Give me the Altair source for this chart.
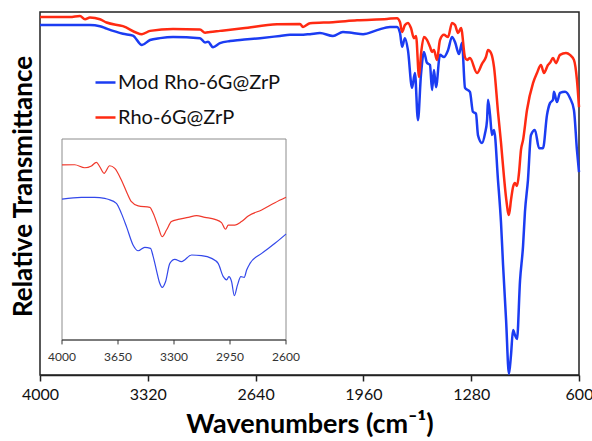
import altair as alt
import pandas as pd

series_names = ["Mod Rho-6G@ZrP", "Rho-6G@ZrP"]
series_colors = ["#1b3cf2", "#ff2a12"]
inset_colors = ["#3348ea", "#f0392c"]

# Main spectrum: Mod Rho-6G@ZrP (blue)
mod_wn = [4000, 3748, 3685, 3622, 3580, 3477, 3414, 3357, 3306, 3243, 3161, 2991, 2959, 2940,
          2909, 2865, 2801, 2738, 2612, 2486, 2423, 2360, 2297, 2234, 2152, 2089, 2026, 1962,
          1874, 1792, 1748, 1729, 1716, 1698, 1679, 1653, 1635, 1616, 1597, 1578, 1559, 1540,
          1527, 1515, 1502, 1477, 1452, 1426, 1401, 1382, 1357, 1338, 1319, 1288, 1269, 1250,
          1237, 1212, 1193, 1180, 1174, 1161, 1149, 1136, 1111, 1092, 1079, 1060, 1042, 1029,
          1016, 1004, 991, 972, 953, 941, 922, 903, 878, 852, 827, 802, 783, 764, 758, 739,
          720, 688, 657, 632, 613, 600]
mod_t = [96.4, 96.4, 96.4, 96.1, 95.4, 94.0, 93.5, 90.9, 92.3, 92.8, 93.1, 92.8, 91.6, 91.8,
         90.3, 91.4, 92.0, 92.3, 92.8, 93.4, 93.7, 93.7, 93.9, 94.2, 93.4, 94.5, 94.2, 93.9,
         95.0, 95.9, 95.9, 94.2, 90.4, 92.8, 89.5, 79.1, 83.2, 70.2, 82.6, 89.0, 86.0, 85.4,
         78.5, 84.0, 79.3, 88.2, 87.6, 89.5, 93.1, 91.7, 88.4, 91.5, 79.1, 78.0, 72.5, 72.0,
         66.0, 63.9, 66.5, 70.2, 75.8, 71.6, 66.1, 67.5, 53.7, 42.0, 30.3, 15.2, 0.3, 5.5,
         12.4, 11.0, 9.9, 26.0, 35.5, 44.9, 53.7, 66.1, 67.5, 62.5, 62.5, 71.6, 74.9, 75.8, 78.0, 75.2,
         77.7, 78.0, 76.3, 73.0, 62.0, 55.9]

# Main spectrum: Rho-6G@ZrP (red)
rho_wn = [4000, 3811, 3748, 3716, 3685, 3622, 3580, 3477, 3357, 3306, 3161, 2991, 2959, 2928,
          2865, 2720, 2505, 2360, 2341, 2297, 2152, 2000, 1811, 1748, 1729, 1716, 1698, 1679,
          1660, 1641, 1628, 1609, 1597, 1578, 1559, 1540, 1527, 1515, 1496, 1477, 1452, 1426,
          1401, 1382, 1363, 1344, 1319, 1306, 1288, 1243, 1212, 1187, 1174, 1155, 1136, 1111,
          1092, 1073, 1060, 1042, 1029, 1016, 1004, 991, 978, 966, 953, 928, 890, 865, 840,
          821, 796, 783, 764, 745, 720, 682, 657, 632, 613, 600]
rho_t = [98.6, 98.6, 98.9, 98.0, 98.5, 98.0, 97.1, 96.1, 93.9, 94.8, 95.3, 95.2, 94.3, 94.5,
         94.8, 95.5, 96.6, 96.7, 95.9, 96.9, 97.2, 97.7, 98.1, 98.3, 97.2, 94.5, 96.4, 97.0,
         95.6, 92.8, 93.4, 82.1, 88.2, 93.1, 92.3, 90.4, 89.0, 89.5, 86.8, 92.3, 93.7, 93.1,
         97.0, 96.4, 94.2, 95.6, 87.5, 86.8, 87.3, 83.2, 85.7, 87.6, 89.5, 88.7, 84.8, 72.5,
         64.0, 54.5, 48.8, 44.1, 48.2, 51.8, 52.9, 52.1, 55.9, 62.0, 64.7, 73.0, 80.4, 83.2, 85.4,
         83.2, 85.4, 86.0, 87.3, 85.9, 88.2, 88.7, 88.2, 86.8, 81.3, 73.8]

# Inset (4000-2600 cm-1)
inset_mod_wn = [4000, 3879, 3796, 3733, 3712, 3660, 3629, 3597, 3556, 3524, 3483, 3447, 3430,
                3410, 3389, 3374, 3353, 3326, 3295, 3253, 3190, 3128, 3065, 3024, 2992, 2971,
                2957, 2940, 2923, 2903, 2882, 2861, 2846, 2825, 2752, 2669, 2600]
inset_mod_t = [70.1, 71.0, 71.0, 70.5, 70.0, 68.0, 63.0, 56.4, 47.3, 44.4, 46.1, 45.6, 41.5,
               34.8, 28.2, 26.2, 29.0, 38.1, 40.1, 39.0, 42.3, 42.0, 40.6, 38.1, 31.5, 29.9,
               31.5, 29.0, 22.1, 27.4, 31.5, 31.2, 34.8, 38.1, 43.1, 48.1, 52.7]
inset_rho_wn = [4000, 3921, 3858, 3816, 3785, 3764, 3737, 3702, 3670, 3629, 3597, 3566, 3524,
                3451, 3430, 3399, 3374, 3347, 3316, 3274, 3211, 3159, 3107, 3044, 3003, 2978,
                2961, 2919, 2878, 2836, 2752, 2669, 2600]
inset_rho_t = [87.1, 87.2, 85.7, 86.6, 88.4, 86.2, 82.9, 86.7, 85.4, 79.6, 73.8, 68.8, 66.7,
               66.0, 63.0, 56.4, 51.4, 54.7, 58.9, 60.0, 61.0, 61.9, 61.0, 60.0, 58.4, 55.1,
               57.2, 57.2, 58.9, 61.7, 64.7, 68.3, 71.0]

main_ticks = [4000, 3320, 2640, 1960, 1280, 600]
inset_ticks = [4000, 3650, 3300, 2950, 2600]
inset_x_domain = [2600, 4000]
inset_y_domain = [0, 100]

FONT = "Lato"

main_df = pd.concat([
    pd.DataFrame({"wn": mod_wn, "t": mod_t, "series": series_names[0]}),
    pd.DataFrame({"wn": rho_wn, "t": rho_t, "series": series_names[1]}),
])
inset_df = pd.concat([
    pd.DataFrame({"wn": inset_mod_wn, "t": inset_mod_t, "series": series_names[0]}),
    pd.DataFrame({"wn": inset_rho_wn, "t": inset_rho_t, "series": series_names[1]}),
])
tick_df = pd.DataFrame({"wn": inset_ticks, "lbl": [str(v) for v in inset_ticks]})

main = alt.Chart(main_df).mark_line(strokeWidth=2.5, interpolate="monotone").encode(
    x=alt.X("wn:Q",
            scale=alt.Scale(domain=[600, 4000], reverse=True, nice=False, zero=False),
            axis=alt.Axis(values=main_ticks, title="Wavenumbers (cm⁻¹)", grid=False,
                          format="d", labelFontSize=16, labelFont=FONT, labelColor="#111",
                          labelFlush=False, labelOverlap=False,
                          labelPadding=5, tickSize=6, tickColor="#222", tickWidth=1.5,
                          domainColor="#222", domainWidth=1.5,
                          titleFont=FONT, titleFontSize=27, titleFontWeight="bold",
                          titleColor="#000", titlePadding=9)),
    y=alt.Y("t:Q", scale=alt.Scale(domain=[0, 100], nice=False, zero=False),
            axis=alt.Axis(title="Relative Transmittance", labels=False, ticks=False,
                          domain=False, grid=False, titleFont=FONT, titleFontSize=26,
                          titleFontWeight="bold", titleColor="#000", titlePadding=4,
                          titleY=174)),
    color=alt.Color("series:N",
                    scale=alt.Scale(domain=series_names, range=series_colors),
                    legend=alt.Legend(title=None, orient="none", legendX=54, legendY=59,
                                      padding=0, symbolType="stroke", symbolSize=400,
                                      symbolStrokeWidth=2.5, labelFont=FONT,
                                      labelFontSize=20, labelColor="#111", labelOffset=1,
                                      rowPadding=13, labelLimit=300)),
)

ixs = alt.Scale(domain=inset_x_domain, range=[246, 22], nice=False, zero=False)
iys = alt.Scale(domain=inset_y_domain, range=[328, 127], nice=False, zero=False)

frame = alt.Chart(tick_df.head(1)).mark_rect(fill="white", stroke="#8c8c8c", strokeWidth=1).encode(
    x=alt.X(datum=inset_x_domain[1], scale=ixs, axis=None),
    x2=alt.X2(datum=inset_x_domain[0]),
    y=alt.Y(datum=inset_y_domain[0], scale=iys, axis=None),
    y2=alt.Y2(datum=inset_y_domain[1]),
)
base_line = alt.Chart(tick_df.head(1)).mark_rule(color="#333", strokeWidth=1.2).encode(
    x=alt.X(datum=inset_x_domain[1], scale=ixs, axis=None),
    x2=alt.X2(datum=inset_x_domain[0]),
    y=alt.Y(datum=inset_y_domain[0], scale=iys, axis=None),
)
ticks = alt.Chart(tick_df).mark_rule(color="#333", strokeWidth=1).encode(
    x=alt.X("wn:Q", scale=ixs, axis=None),
    y=alt.Y(datum=0, scale=iys, axis=None),
    y2=alt.Y2(datum=-2.2),
)
tick_labels = alt.Chart(tick_df).mark_text(font=FONT, fontSize=12, color="#333", dy=17).encode(
    x=alt.X("wn:Q", scale=ixs, axis=None),
    y=alt.Y(datum=0, scale=iys, axis=None),
    text="lbl:N",
)
inset_lines = alt.Chart(inset_df).mark_line(strokeWidth=1.2, interpolate="monotone").encode(
    x=alt.X("wn:Q", scale=ixs, axis=None),
    y=alt.Y("t:Q", scale=iys, axis=None),
    color=alt.Color("series:N", scale=alt.Scale(domain=series_names, range=inset_colors),
                    legend=None),
)

inset = alt.layer(frame, base_line, ticks, tick_labels, inset_lines)

chart = alt.layer(main, inset).resolve_scale(
    x="independent", y="independent", color="independent"
).properties(
    width=539, height=363,
    autosize=alt.AutoSizeParams(type="none"),
    padding={"left": 40, "top": 12, "right": 13, "bottom": 66},
    background="white",
).configure_view(stroke="#222", strokeWidth=1.5)

chart.save("out.html", embed_options={"renderer": "svg", "actions": False})
